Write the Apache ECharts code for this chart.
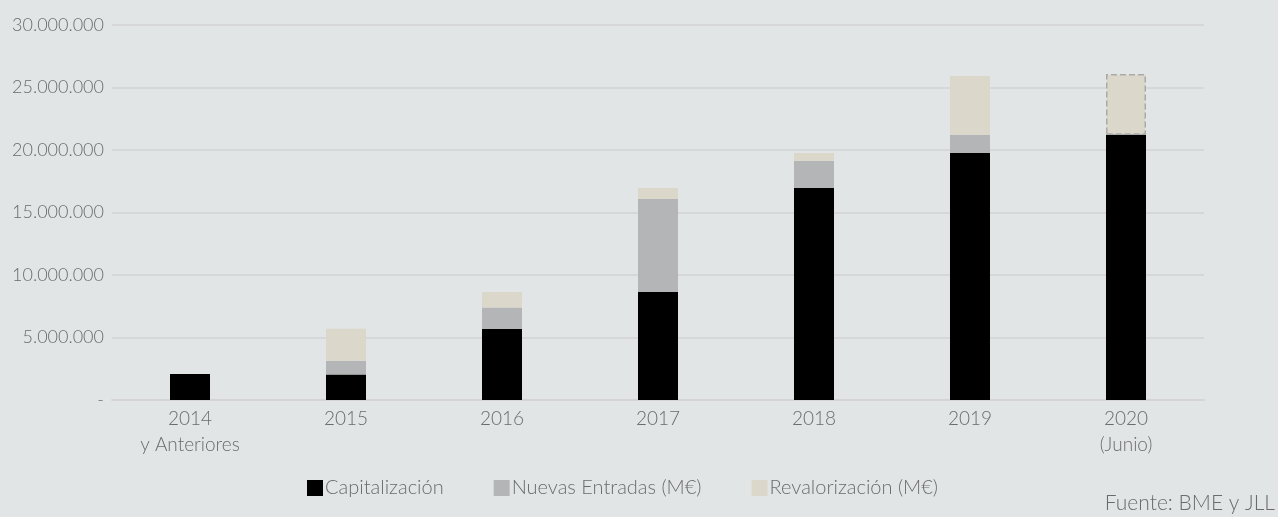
<!DOCTYPE html>
<html>
<head>
<meta charset="utf-8">
<script src="https://cdn.jsdelivr.net/npm/echarts@6/dist/echarts.min.js"></script>
<style>
  html, body { margin: 0; padding: 0; background: #e2e5e6; }
  #root { width: 1278px; height: 517px; }
</style>
</head>
<body>
<div id="root"></div>
<script>
  const years = ['2014\ny Anteriores', '2015', '2016', '2017', '2018', '2019', '2020\n(Junio)'];
  const capitalizacion = [2080000, 2050000, 5680000, 8640000, 16960000, 19760000, 21220000];
  const nuevasEntradas = [0, 1090000, 1720000, 7440000, 2190000, 1460000, 0];
  const revalorizacion = [0, 2560000, 1240000, 880000, 610000, 4700000, 4860000];
  const legendNames = ['Capitalización', 'Nuevas Entradas (M€)', 'Revalorización (M€)'];
  const sourceText = 'Fuente: BME y JLL';

  const font = 'Lato, "Open Sans", sans-serif';
  const textColor = '#6b6b6b';

  function fmt(v) {
    if (v === 0) return '-';
    return String(v).replace(/\B(?=(\d{3})+(?!\d))/g, '.');
  }

  // el ultimo tramo (2020) va con borde discontinuo
  const revalData = revalorizacion.map((v, i) => i === revalorizacion.length - 1
    ? { value: v, itemStyle: { borderType: 'dashed', borderColor: '#a9a9a9', borderWidth: 1.5 } }
    : v);

  const chart = echarts.init(document.getElementById('root'));
  chart.setOption({
    backgroundColor: '#e2e5e6',
    animation: false,
    textStyle: { fontFamily: font, fontWeight: 300 },
    grid: { left: 112, right: 74, top: 25, bottom: 117 },
    legend: {
      top: 478,
      left: 307,
      padding: 0,
      itemWidth: 16,
      itemHeight: 16,
      itemGap: 50,
      icon: 'rect',
      data: legendNames,
      textStyle: { fontFamily: font, fontWeight: 300, fontSize: 20, color: textColor, padding: [0, 0, 0, -3] }
    },
    xAxis: {
      type: 'category',
      data: years,
      axisTick: { show: false },
      axisLine: { lineStyle: { color: '#d4d4d6', width: 2 } },
      axisLabel: {
        margin: 6,
        fontFamily: font, fontWeight: 300, fontSize: 19, color: textColor, lineHeight: 26
      }
    },
    yAxis: {
      type: 'value',
      min: 0,
      max: 30000000,
      interval: 5000000,
      axisLine: { show: false },
      axisTick: { show: false },
      splitLine: { lineStyle: { color: '#d6d7d9', width: 2 } },
      axisLabel: {
        margin: 8,
        formatter: fmt,
        fontFamily: font, fontWeight: 300, fontSize: 18, color: textColor
      }
    },
    graphic: [{
      type: 'text',
      right: 3,
      bottom: 3,
      style: { text: sourceText, font: '300 21px ' + font, fill: textColor }
    }],
    series: [
      { name: legendNames[0], type: 'bar', stack: 'total', barWidth: 40, data: capitalizacion, itemStyle: { color: '#000000' } },
      { name: legendNames[1], type: 'bar', stack: 'total', barWidth: 40, data: nuevasEntradas, itemStyle: { color: '#b4b5b6' } },
      { name: legendNames[2], type: 'bar', stack: 'total', barWidth: 40, data: revalData, itemStyle: { color: '#dbd8cb' } }
    ]
  });
</script>
</body>
</html>
